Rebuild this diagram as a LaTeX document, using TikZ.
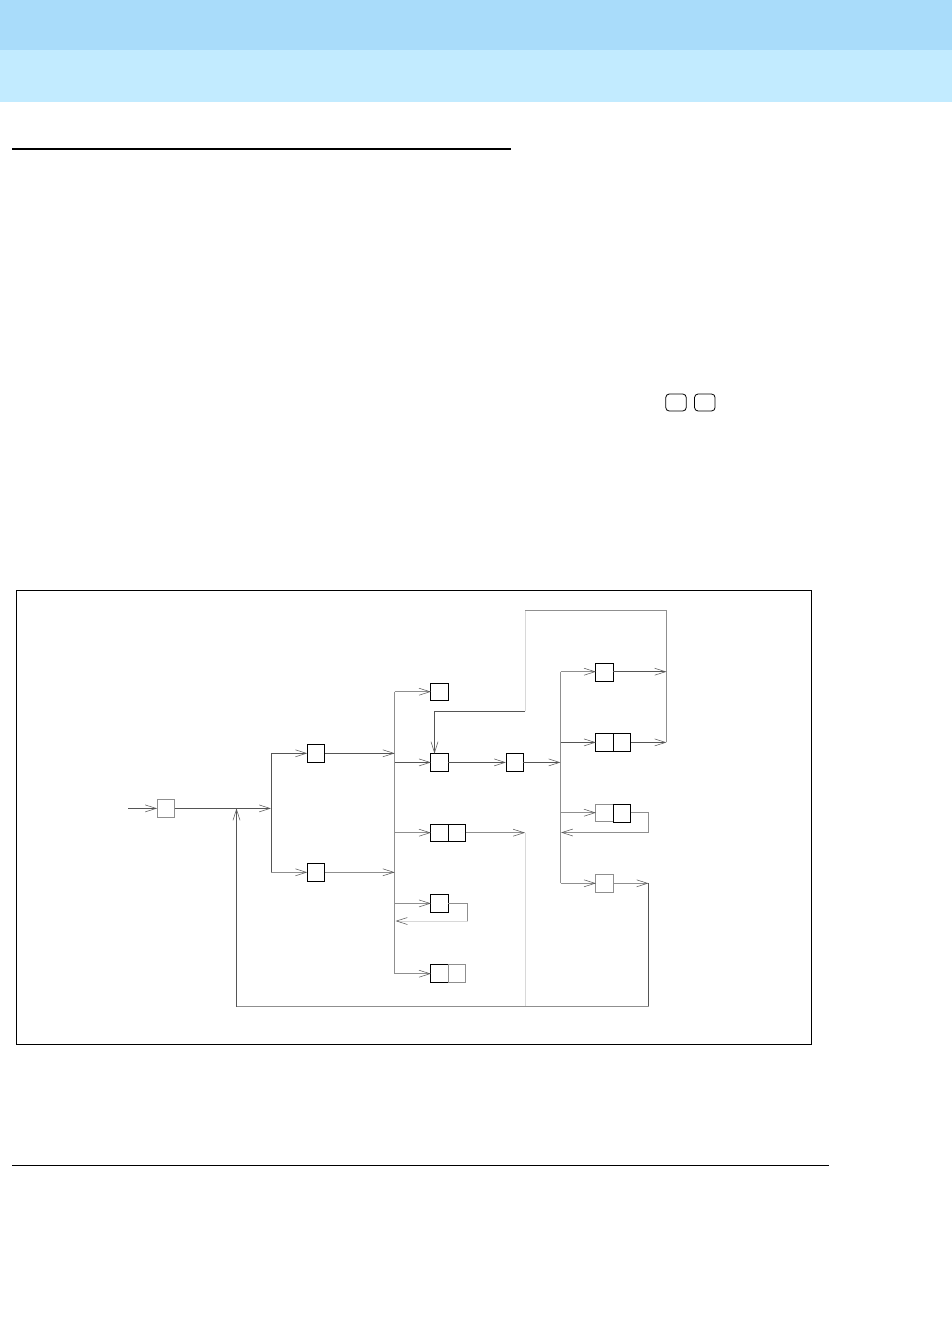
\documentclass[tikz,border=0pt]{standalone}
\usetikzlibrary{arrows.meta}
\definecolor{wdark}{HTML}{555555}
\definecolor{wmid}{HTML}{8F8F8F}
\definecolor{wlight}{HTML}{D8D8D8}
\definecolor{tipc}{HTML}{5A5A5A}
\definecolor{headA}{HTML}{A9DCFA}
\definecolor{headB}{HTML}{C2EBFF}
\tikzset{
  flowtip/.tip={Straight Barb[length=11pt,width=7pt,line width=0.55pt,color=tipc]},
  wire/.style={line width=0.8pt,color=wdark},
  wiremid/.style={line width=0.8pt,color=wmid},
  wirelight/.style={line width=1pt,color=wlight},
  arr/.style={-{flowtip}},
  box/.style={draw=black,fill=white,line width=0.9pt,rectangle,inner sep=0pt,outer sep=0pt,minimum width=17.4pt,minimum height=17.6pt},
  greybox/.style={box,draw=wmid},
  key/.style={draw=black,fill=white,line width=0.8pt,rectangle,rounded corners=3.5pt,inner sep=0pt,outer sep=0pt,minimum width=20.5pt,minimum height=17pt},
  rule/.style={draw=black,line width=0.9pt}
}
\begin{document}
\begin{tikzpicture}[x=1pt,y=-1pt]
\useasboundingbox (0,0) rectangle (952,1326);
% header bands
\fill[headA] (0,0) rectangle (952,50);
\fill[headB] (0,50) rectangle (952,102);
% rules
\coordinate (ruleAl) at (12,149);
\coordinate (ruleAr) at (511,149);
\draw[black,line width=2pt] (ruleAl) -- (ruleAr);
\coordinate (ruleBl) at (12,1165);
\coordinate (ruleBr) at (829,1165);
\draw[rule] (ruleBl) -- (ruleBr);
% key caps
\node[key] (keyA) at (676,402.5) {};
\node[key] (keyB) at (704.8,402.5) {};
% frame
\draw[line width=0.8pt,black] (16.5,590.5) rectangle (811.5,1044.7);
% junction coordinates
\coordinate (in) at (128,808.4);
\coordinate (j1) at (236.5,808.4);
\coordinate (j2) at (271,808.4);
\coordinate (up) at (271,753.3);
\coordinate (dn) at (271,872.3);
\coordinate (bAup) at (394.7,753.3);
\coordinate (bAdn) at (394.7,872.3);
\coordinate (bAt) at (394.7,691.7);
\coordinate (bAm) at (394.7,762.4);
\coordinate (bAc) at (394.7,832.7);
\coordinate (bAd) at (394.7,903.4);
\coordinate (bAr) at (395.5,921);
\coordinate (bAb) at (394.7,973.7);
\coordinate (bBin) at (560.5,762.4);
\coordinate (bBt) at (560.5,671.7);
\coordinate (bBu) at (560.5,742.4);
\coordinate (bBd) at (560.5,812.7);
\coordinate (bBr) at (561,832.5);
\coordinate (bBb) at (560.5,883.3);
\coordinate (rA) at (666.5,671.7);
\coordinate (rB) at (666.5,742.4);
\coordinate (rTop) at (666.5,610.3);
\coordinate (lTop) at (525,610.3);
\coordinate (lMid) at (525,711.3);
\coordinate (fbK) at (434.5,711.3);
\coordinate (mOut) at (525,832.7);
\coordinate (mBot) at (525,1006.5);
\coordinate (loopAa) at (467.5,903.4);
\coordinate (loopAb) at (467.5,921);
\coordinate (loopBa) at (648.5,812.7);
\coordinate (loopBb) at (648.5,832.5);
\coordinate (rC) at (648.5,883.3);
\coordinate (rCb) at (648.5,1006.5);
\coordinate (bot) at (236.5,1006.5);
% buses and feedback lines
\draw[wire] (j2) -- (up);
\draw[wire] (j2) -- (dn);
\draw[wiremid] (bAt) -- (bAb);
\draw[wiremid] (bBt) -- (bBb);
\draw[wirelight] (lMid) -- (lTop);
\draw[wiremid] (lTop) -- (rTop);
\draw[wiremid] (rTop) -- (rB);
\draw[wirelight] (mOut) -- (mBot);
\draw[wire] (rC) -- (rCb);
\draw[wiremid] (rCb) -- (bot);
\draw[wire,arr] (bot) -- (j1);
\draw[wire] (lMid) -- (fbK);
% boxes
\node[greybox] (n1) at (165.8,808.4) {};
\node[box] (n2) at (316,753.3) {};
\node[box] (n3) at (316,872.3) {};
\node[box] (n4) at (439.6,691.9) {};
\node[box] (n5) at (439.6,762.4) {};
\node[box] (n6) at (514.7,762.4) {};
\node[box] (n7a) at (439.6,833) {};
\node[box] (n7b) at (457,833) {};
\node[box] (n8) at (439.6,903.4) {};
\node[box] (n9a) at (439.6,973.7) {};
\node[greybox] (n9b) at (457,973.7) {};
\node[box] (n10) at (604.6,672.4) {};
\node[box] (n11a) at (604.6,742.6) {};
\node[box] (n11b) at (622,742.6) {};
\node[greybox] (n12a) at (604.6,813) {};
\node[box] (n12b) at (622,813.2) {};
\node[greybox] (n13) at (604.6,883.4) {};
% connectors
\draw[wire,arr] (in) -- (n1.west);
\draw[wire,arr] (n1.east) -- (j2);
\draw[wire,arr] (up) -- (n2.west);
\draw[wiremid,arr] (dn) -- (n3.west);
\draw[wire,arr] (n2.east) -- (bAup);
\draw[wiremid,arr] (n3.east) -- (bAdn);
\draw[wiremid,arr] (bAt) -- (bAt -| n4.west);
\draw[wire,arr] (bAm) -- (n5.west);
\draw[wiremid,arr] (bAc) -- (bAc -| n7a.west);
\draw[wiremid,arr] (bAd) -- (n8.west);
\draw[wiremid,arr] (bAb) -- (n9a.west);
\draw[wire,arr] (n5.east) -- (n6.west);
\draw[wire,arr] (n6.east) -- (bBin);
\draw[wire,arr] (fbK) -- (fbK |- n5.north);
\draw[wiremid,arr] (bAc -| n7b.east) -- (mOut);
\draw[wiremid] (n8.east) -- (loopAa);
\draw[wiremid] (loopAa) -- (loopAb);
\draw[wirelight,arr] (loopAb) -- (bAr);
\draw[wiremid,arr] (bBt) -- (bBt -| n10.west);
\draw[wire,arr] (bBu) -- (bBu -| n11a.west);
\draw[wiremid,arr] (bBd) -- (bBd -| n12a.west);
\draw[wiremid,arr] (bBb) -- (bBb -| n13.west);
\draw[wire,arr] (rA -| n10.east) -- (rA);
\draw[wire,arr] (rB -| n11b.east) -- (rB);
\draw[wiremid] (loopBa -| n12b.east) -- (loopBa);
\draw[wiremid] (loopBa) -- (loopBb);
\draw[wiremid,arr] (loopBb) -- (bBr);
\draw[wiremid,arr] (rC -| n13.east) -- (rC);
\end{tikzpicture}
\end{document}
